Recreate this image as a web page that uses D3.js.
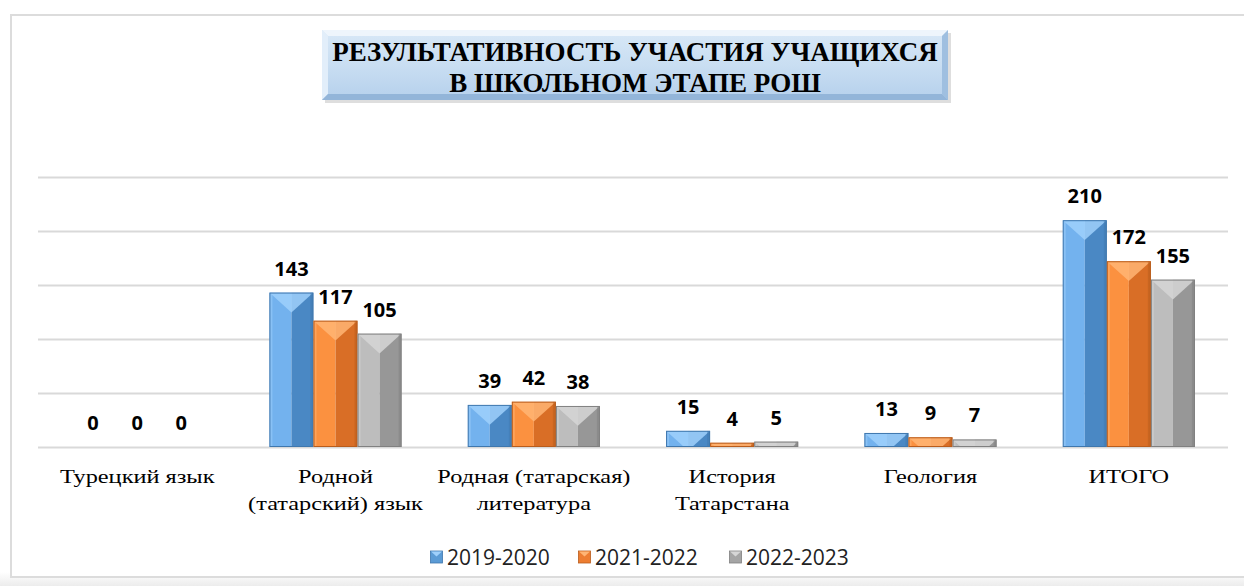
<!DOCTYPE html>
<html>
<head>
<meta charset="utf-8">
<script src="https://cdn.jsdelivr.net/npm/d3@7"></script>
<style>
  body { margin: 0; background: #fff; }
  svg { display: block; }
</style>
</head>
<body>
<div id="chart"></div>
<script>
// Chart data
const categories = [
  ['Турецкий язык'],
  ['Родной', '(татарский) язык'],
  ['Родная (татарская)', 'литература'],
  ['История', 'Татарстана'],
  ['Геология'],
  ['ИТОГО']
]
const seriesNames = ['2019-2020', '2021-2022', '2022-2023']
const values2019 = [0, 143, 39, 15, 13, 210]
const values2021 = [0, 117, 42, 4, 9, 172]
const values2022 = [0, 105, 38, 5, 7, 155]
const gridTicks = [0, 50, 100, 150, 200, 250]
const titleLines = ['РЕЗУЛЬТАТИВНОСТЬ УЧАСТИЯ УЧАЩИХСЯ', 'В ШКОЛЬНОМ ЭТАПЕ РОШ']

const width = 1244
const height = 586

// base / light / dark tones for the bevelled bars
const palette = [
  { base: '#5b9bd5', light: '#73b2ee', dark: '#4a88c4', edge: '#3f77ad', top: '#9fd0fb' },
  { base: '#ed7d31', light: '#fb9140', dark: '#d96e26', edge: '#b85c1c', top: '#ffb574' },
  { base: '#a5a5a5', light: '#bdbdbd', dark: '#979797', edge: '#808080', top: '#d6d6d6' }
]

const svg = d3.select('#chart').append('svg')
  .attr('width', width)
  .attr('height', height)

const defs = svg.append('defs')

// Outer chart frame
const shadow = defs.append('linearGradient').attr('id', 'bottomShade')
  .attr('x1', 0).attr('y1', 0).attr('x2', 0).attr('y2', 1)
shadow.append('stop').attr('offset', '0%').attr('stop-color', '#ffffff')
shadow.append('stop').attr('offset', '100%').attr('stop-color', '#ececec')
svg.append('rect').attr('x', 0).attr('y', 572).attr('width', width).attr('height', 14)
  .attr('fill', 'url(#bottomShade)')
svg.append('rect')
  .attr('x', 11).attr('y', 15).attr('width', width + 20).attr('height', 562)
  .attr('fill', '#fff').attr('stroke', '#dcdcdc').attr('stroke-width', 2)

// Title box with bevel
const tb = { x: 322, y: 30, w: 626, h: 70, b: 6 }
const tg = defs.append('linearGradient').attr('id', 'titleFill')
  .attr('x1', 0).attr('y1', 0).attr('x2', 0).attr('y2', 1)
tg.append('stop').attr('offset', '0%').attr('stop-color', '#d8e8f7')
tg.append('stop').attr('offset', '50%').attr('stop-color', '#c9def2')
tg.append('stop').attr('offset', '100%').attr('stop-color', '#b5d0ec')
const title = svg.append('g')
title.append('rect').attr('x', tb.x + 3).attr('y', tb.y + 3).attr('width', tb.w).attr('height', tb.h)
  .attr('fill', '#c8c8c8').attr('opacity', 0.6)
title.append('rect').attr('x', tb.x).attr('y', tb.y).attr('width', tb.w).attr('height', tb.h)
  .attr('fill', 'url(#titleFill)')
const bevels = [
  { pts: [[0, 0], [tb.w, 0], [tb.w - tb.b, tb.b], [tb.b, tb.b]], c: '#eef5fc' },
  { pts: [[0, 0], [tb.b, tb.b], [tb.b, tb.h - tb.b], [0, tb.h]], c: '#e2eefa' },
  { pts: [[tb.w, 0], [tb.w, tb.h], [tb.w - tb.b, tb.h - tb.b], [tb.w - tb.b, tb.b]], c: '#9fbfe0' },
  { pts: [[0, tb.h], [tb.b, tb.h - tb.b], [tb.w - tb.b, tb.h - tb.b], [tb.w, tb.h]], c: '#93b5d9' }
]
title.selectAll('polygon').data(bevels).join('polygon')
  .attr('points', d => d.pts.map(p => (tb.x + p[0]) + ',' + (tb.y + p[1])).join(' '))
  .attr('fill', d => d.c)
title.selectAll('text').data(titleLines).join('text')
  .attr('x', tb.x + tb.w / 2)
  .attr('y', (d, i) => 61 + i * 31)
  .attr('text-anchor', 'middle')
  .attr('font-family', '"Liberation Serif", "Times New Roman", serif')
  .attr('font-weight', 'bold')
  .attr('font-size', 27)
  .attr('fill', '#000')
  .text(d => d)

// Scales
const plot = { left: 38, right: 1228, top: 160, bottom: 447 }
const x0 = d3.scaleBand()
  .domain(d3.range(categories.length))
  .range([plot.left, plot.right])
  .paddingInner(0)
  .paddingOuter(0)
const x1 = d3.scaleBand()
  .domain(d3.range(seriesNames.length))
  .range([0, x0.bandwidth()])
  .paddingOuter(0.75)
  .paddingInner(0)
const y = d3.scaleLinear()
  .domain([0, 250])
  .range([plot.bottom, plot.bottom - 270])

// Gridlines
svg.append('g').selectAll('line').data(gridTicks).join('line')
  .attr('x1', plot.left).attr('x2', plot.right)
  .attr('y1', d => Math.round(y(d)) + 0.5).attr('y2', d => Math.round(y(d)) + 0.5)
  .attr('stroke', '#d9d9d9').attr('stroke-width', 2)

// Bars
const allValues = [values2019, values2021, values2022]
const barData = []
categories.forEach((c, ci) => {
  allValues.forEach((vals, si) => barData.push({ ci: ci, si: si, value: vals[ci] }))
})

const bars = svg.append('g').selectAll('g').data(barData).join('g')

bars.each(function (d, i) {
  const g = d3.select(this)
  const bx = x0(d.ci) + x1(d.si)
  const bw = x1.bandwidth()
  const by = y(d.value)
  const bh = y(0) - by
  if (bh <= 0) return
  const col = palette[d.si]
  const clipId = 'clip' + i
  defs.append('clipPath').attr('id', clipId)
    .append('rect').attr('x', bx).attr('y', by).attr('width', bw).attr('height', bh)
  const inner = g.append('g').attr('clip-path', 'url(#' + clipId + ')')
  inner.append('rect').attr('x', bx).attr('y', by).attr('width', bw / 2).attr('height', bh).attr('fill', col.light)
  inner.append('rect').attr('x', bx + bw / 2).attr('y', by).attr('width', bw / 2).attr('height', bh).attr('fill', col.dark)
  const depth = bw * 0.45
  inner.append('polygon')
    .attr('points', [[bx, by], [bx + bw, by], [bx + bw / 2, by + depth]].map(p => p.join(',')).join(' '))
    .attr('fill', col.top).attr('opacity', 0.85)
  inner.append('rect').attr('x', bx).attr('y', by).attr('width', 3).attr('height', bh).attr('fill', col.top).attr('opacity', 0.5)
  inner.append('rect').attr('x', bx + bw - 3).attr('y', by).attr('width', 3).attr('height', bh).attr('fill', col.edge).attr('opacity', 0.5)
  g.append('rect').attr('x', bx + 0.5).attr('y', by + 0.5).attr('width', bw - 1).attr('height', Math.max(bh - 1, 0.5))
    .attr('fill', 'none').attr('stroke', col.edge).attr('stroke-width', 1)
})

// Data labels
svg.append('g').selectAll('text').data(barData).join('text')
  .attr('x', d => x0(d.ci) + x1(d.si) + x1.bandwidth() / 2)
  .attr('y', d => y(d.value) - 17)
  .attr('text-anchor', 'middle')
  .attr('font-family', '"Open Sans", "Noto Sans", sans-serif')
  .attr('font-weight', 'bold')
  .attr('font-size', 20)
  .attr('fill', '#000')
  .text(d => d.value)

// Category labels (the original text is drawn wide, so stretch horizontally)
const catG = svg.append('g').selectAll('g').data(categories).join('g')
  .attr('transform', (d, i) => 'translate(' + (x0(i) + x0.bandwidth() / 2) + ',0) scale(1.28,1)')
catG.selectAll('text').data(d => d).join('text')
  .attr('x', 0)
  .attr('y', (d, i) => 483 + i * 27)
  .attr('text-anchor', 'middle')
  .attr('font-family', '"Liberation Serif", "Times New Roman", serif')
  .attr('font-size', 19)
  .attr('fill', '#000')
  .text(d => d)

// Legend
const legend = svg.append('g').selectAll('g').data(seriesNames).join('g')
  .attr('transform', (d, i) => 'translate(' + [430, 578, 729][i] + ',557)')
legend.append('rect').attr('x', 0.5).attr('y', -6).attr('width', 12).attr('height', 12)
  .attr('fill', (d, i) => palette[i].base).attr('stroke', (d, i) => palette[i].edge).attr('stroke-width', 0.8)
legend.append('polygon').attr('points', '1,-5.5 12,-5.5 6.5,-0.5')
  .attr('fill', (d, i) => palette[i].top)
legend.append('text')
  .attr('x', 17).attr('y', 8)
  .attr('font-family', '"Open Sans", "Noto Sans", sans-serif')
  .attr('font-size', 21)
  .attr('fill', '#222')
  .text(d => d)
</script>
</body>
</html>
